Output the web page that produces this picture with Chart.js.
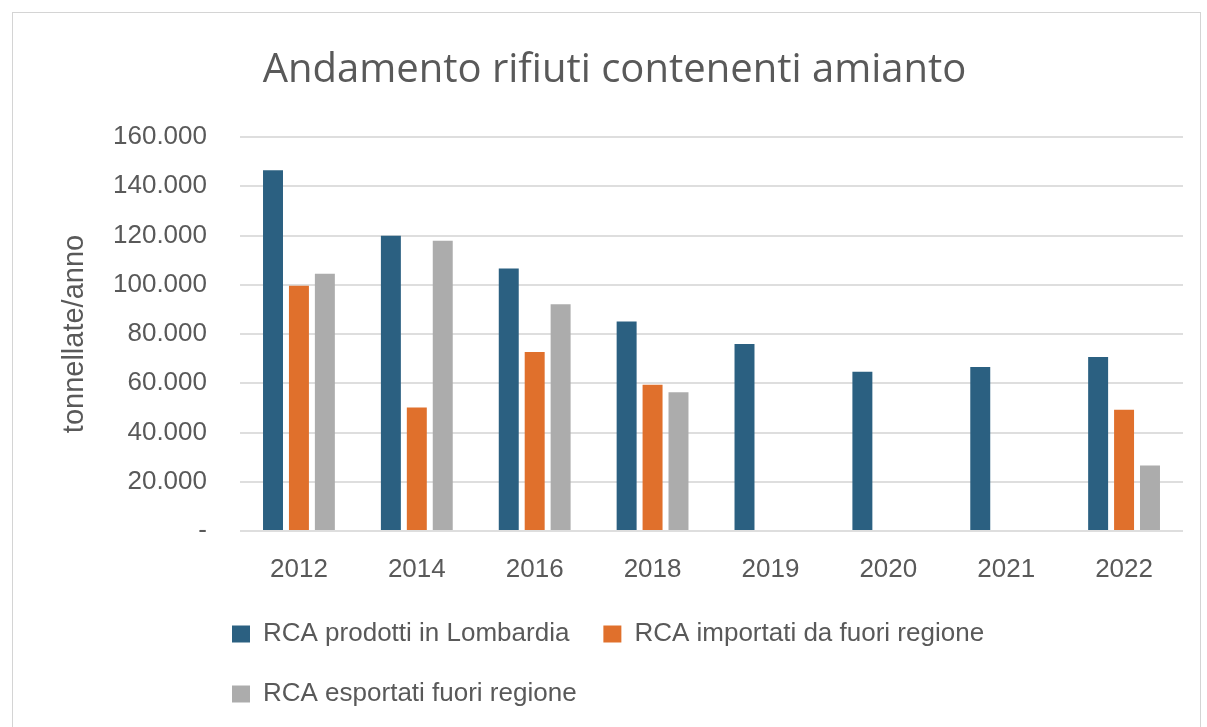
<!DOCTYPE html>
<html>
<head>
<meta charset="utf-8">
<script src="https://cdn.jsdelivr.net/npm/chart.js@4.4.1/dist/chart.umd.min.js"></script>
<style>
  html, body { margin: 0; padding: 0; background: #fff; }
  #wrap { position: relative; width: 1207px; height: 727px; overflow: hidden; }
  #frame { position: absolute; left: 12px; top: 12px; width: 1187px; height: 760px; border: 1px solid #d4d4d4; }
  #chart { position: absolute; left: 0; top: 0; }
</style>
</head>
<body>
<div id="wrap">
  <div id="frame"></div>
  <canvas id="chart" width="1207" height="727"></canvas>
</div>
<script>
// Data
const years = ['2012', '2014', '2016', '2018', '2019', '2020', '2021', '2022'];
const prodotti = [146500, 119900, 106600, 85100, 75900, 64700, 66600, 70700];
const importati = [99600, 50200, 72700, 59400, null, null, null, 49200];
const esportati = [104500, 117900, 92100, 56300, null, null, null, 26600];
const yTickLabels = ['-', '20.000', '40.000', '60.000', '80.000', '100.000', '120.000', '140.000', '160.000'];

const textColor = '#595959';

// Shift the legend so its rows start under the plot, like the original
const legendShift = {
    id: 'legendShift',
    afterLayout(chart) {
        chart.legend.left = 198;
    }
};

const chart = new Chart(document.getElementById('chart'), {
    type: 'bar',
    data: {
        labels: years,
        datasets: [
            { label: 'RCA prodotti in Lombardia', data: prodotti, backgroundColor: '#2b6081' },
            { label: 'RCA importati da fuori regione', data: importati, backgroundColor: '#e0702c' },
            { label: 'RCA esportati fuori regione', data: esportati, backgroundColor: '#acacac' }
        ]
    },
    options: {
        responsive: false,
        animation: false,
        layout: { padding: { left: 46, right: 24, top: 0, bottom: 10 } },
        datasets: {
            bar: { categoryPercentage: 0.66, barPercentage: 0.77 }
        },
        plugins: {
            title: {
                display: true,
                text: 'Andamento rifiuti contenenti amianto',
                color: textColor,
                font: { family: 'Open Sans', size: 40, weight: 'normal' },
                padding: { top: 47, bottom: 42 }
            },
            legend: {
                position: 'bottom',
                align: 'start',
                labels: {
                    color: textColor,
                    font: { family: 'Liberation Sans', size: 26 },
                    boxWidth: 18,
                    boxHeight: 17,
                    padding: 34
                }
            },
            tooltip: { enabled: false }
        },
        scales: {
            x: {
                grid: { display: false },
                border: { display: false },
                ticks: {
                    color: textColor,
                    font: { family: 'Liberation Sans', size: 26 },
                    padding: 15
                },
                afterFit(scale) { scale.height = 56; }
            },
            y: {
                min: 0,
                max: 160000,
                ticks: {
                    stepSize: 20000,
                    color: textColor,
                    font: { family: 'Liberation Sans', size: 26 },
                    padding: 33,
                    callback: (value, index) => yTickLabels[index]
                },
                grid: { color: '#dedede', lineWidth: 2, drawTicks: false },
                border: { display: false },
                title: {
                    display: true,
                    text: 'tonnellate/anno',
                    color: textColor,
                    font: { family: 'Liberation Sans', size: 29 },
                    padding: { top: 12, bottom: 0 }
                },
                afterFit(scale) { scale.width = 194; }
            }
        }
    },
    plugins: [legendShift]
});
</script>
</body>
</html>
